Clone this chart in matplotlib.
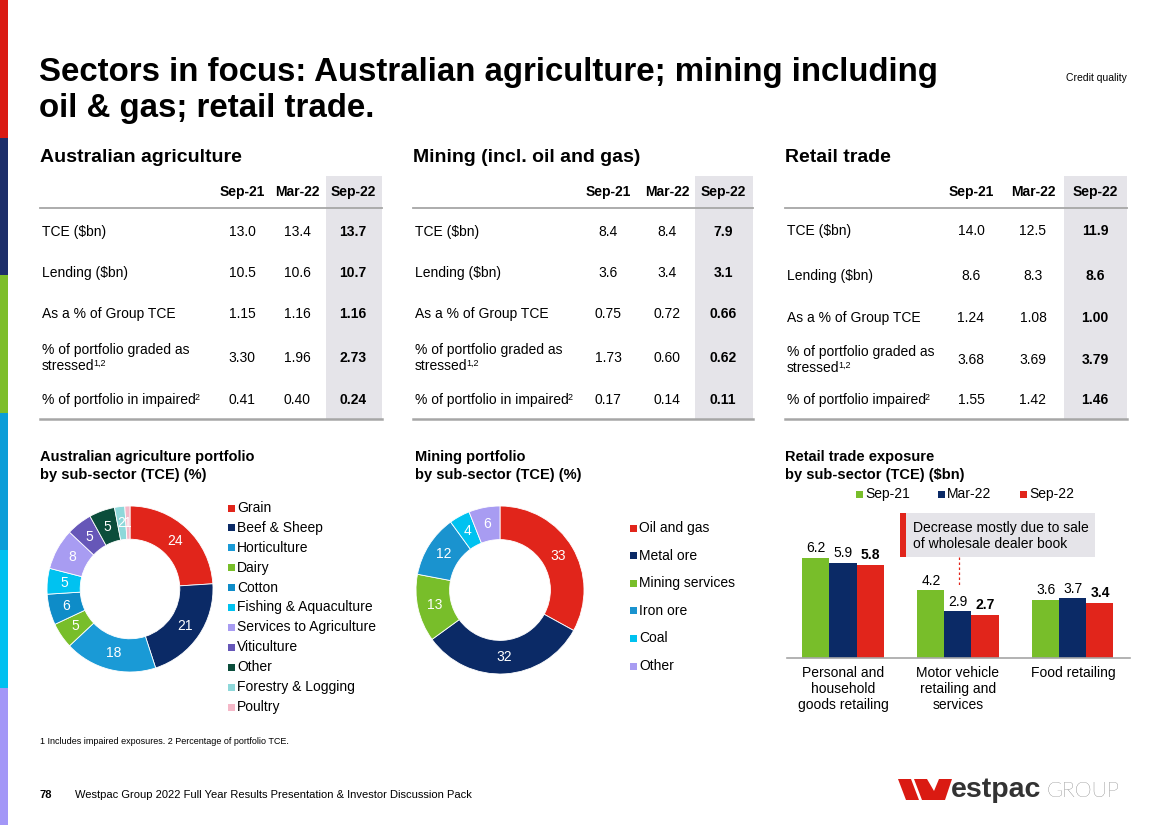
import numpy as np
import matplotlib
matplotlib.use('Agg')
import matplotlib.pyplot as plt
from matplotlib.patches import Rectangle, Polygon

plt.rcParams['font.family'] = ['Liberation Sans', 'DejaVu Sans']

# ---- data ----
periods = ["Sep-21", "Mar-22", "Sep-22"]

agri_labels = ["TCE ($bn)", "Lending ($bn)", "As a % of Group TCE",
               "% of portfolio graded as\nstressed", "% of portfolio in impaired"]
label_sups = ["", "", "", "1,2", "2"]
agri_sep21 = [13.0, 10.5, 1.15, 3.30, 0.41]
agri_mar22 = [13.4, 10.6, 1.16, 1.96, 0.40]
agri_sep22 = [13.7, 10.7, 1.16, 2.73, 0.24]

mining_labels = agri_labels
mining_sep21 = [8.4, 3.6, 0.75, 1.73, 0.17]
mining_mar22 = [8.4, 3.4, 0.72, 0.60, 0.14]
mining_sep22 = [7.9, 3.1, 0.66, 0.62, 0.11]

retail_labels = ["TCE ($bn)", "Lending ($bn)", "As a % of Group TCE",
                 "% of portfolio graded as\nstressed", "% of portfolio impaired"]
retail_sep21 = [14.0, 8.6, 1.24, 3.68, 1.55]
retail_mar22 = [12.5, 8.3, 1.08, 3.69, 1.42]
retail_sep22 = [11.9, 8.6, 1.00, 3.79, 1.46]
row_decimals = [1, 1, 2, 2, 2]

agri_sectors = ["Grain", "Beef & Sheep", "Horticulture", "Dairy", "Cotton",
                "Fishing & Aquaculture", "Services to Agriculture", "Viticulture",
                "Other", "Forestry & Logging", "Poultry"]
agri_share = [24, 21, 18, 5, 6, 5, 8, 5, 5, 2, 1]
agri_colors = ["#E1251B", "#0B2A66", "#1A9AD6", "#78BE2A", "#0E8CC8",
               "#00C2F0", "#A89CF2", "#6657B8", "#0B4D3B", "#8ED8DA", "#F5B8C8"]

mining_sectors = ["Oil and gas", "Metal ore", "Mining services", "Iron ore", "Coal", "Other"]
mining_share = [33, 32, 13, 12, 4, 6]
mining_colors = ["#E1251B", "#0B2A66", "#78BE2A", "#1A93CF", "#00C2F0", "#A89CF2"]

retail_cats = ["Personal and\nhousehold\ngoods retailing",
               "Motor vehicle\nretailing and\nservices", "Food retailing"]
retail_exp_sep21 = [6.2, 4.2, 3.6]
retail_exp_mar22 = [5.9, 2.9, 3.7]
retail_exp_sep22 = [5.8, 2.7, 3.4]
bar_colors = ["#78BE2A", "#0B2A66", "#E1251B"]

side_colors = ["#DA1A12", "#1D2E6A", "#7DBE2A", "#0B9DD8", "#00C0F0", "#A397F7"]

# ---- figure ----
W, H = 1168, 825
fig = plt.figure(figsize=(W / 100, H / 100), dpi=100)
bg = fig.add_axes([0, 0, 1, 1])
bg.set_xlim(0, W)
bg.set_ylim(H, 0)
bg.axis('off')


def px_rect(x0, y0, x1, y1):
    return [x0 / W, 1 - y1 / H, (x1 - x0) / W, (y1 - y0) / H]


# side colour strip
seg = H / len(side_colors)
for i, c in enumerate(side_colors):
    bg.add_patch(Rectangle((0, i * seg), 8, seg, color=c, lw=0))

# title
bg.text(39, 81, "Sectors in focus: Australian agriculture; mining including",
        fontsize=23.8, fontweight='bold', va='baseline')
bg.text(39, 117, "oil & gas; retail trade.", fontsize=23.8, fontweight='bold', va='baseline')
bg.text(1127, 78, "Credit quality", fontsize=7.5, ha='right', va='center')


def draw_table(title, x0, x1, col_x, shade_x0, row_y, labels, cols):
    bg.text(x0, 158, title, fontsize=14, fontweight='bold', va='center')
    bg.add_patch(Rectangle((shade_x0, 176), x1 - shade_x0, 243, color="#E5E4E9", lw=0))
    for cx, p in zip(col_x, periods):
        bg.text(cx, 192, p, fontsize=10, fontweight='bold', ha='center', va='center')
    bg.plot([x0, x1], [208, 208], color="#A6A6A6", lw=1.3)
    bg.plot([x0, x1], [419, 419], color="#A6A6A6", lw=1.8)
    for i, (lab, y) in enumerate(zip(labels, row_y)):
        lines = lab.split("\n")
        ly = [y] if len(lines) == 1 else [y - 8, y + 8]
        for line, yy in zip(lines, ly):
            t = bg.text(x0 + 2, yy, line, fontsize=10, va='center')
        if label_sups[i]:
            bg.annotate(label_sups[i], xy=(1, 0.7), xycoords=t, xytext=(-0.8, 0),
                        textcoords='offset points', fontsize=6.5, va='center', ha='left')
        for j, (cx, vals) in enumerate(zip(col_x, cols)):
            bg.text(cx, y, f"{vals[i]:.{row_decimals[i]}f}", fontsize=10,
                    fontweight='bold' if j == 2 else 'normal', ha='center', va='center')


draw_table("Australian agriculture", 40, 382, [242, 297, 353], 326,
           [232, 273, 314, 358, 400], agri_labels, [agri_sep21, agri_mar22, agri_sep22])
draw_table("Mining (incl. oil and gas)", 413, 753, [608, 667, 723], 695,
           [232, 273, 314, 358, 400], mining_labels, [mining_sep21, mining_mar22, mining_sep22])
draw_table("Retail trade", 785, 1127, [971, 1033, 1095], 1064,
           [231, 276, 318, 360, 400], retail_labels, [retail_sep21, retail_mar22, retail_sep22])

# chart headings
for x, l1, l2 in [(40, "Australian agriculture portfolio", "by sub-sector (TCE) (%)"),
                  (415, "Mining portfolio", "by sub-sector (TCE) (%)"),
                  (785, "Retail trade exposure", "by sub-sector (TCE) ($bn)")]:
    bg.text(x, 457, l1, fontsize=10.5, fontweight='bold', va='center')
    bg.text(x, 475, l2, fontsize=10.5, fontweight='bold', va='center')


def donut(cx, cy, r, values, colors):
    ax = fig.add_axes(px_rect(cx - r, cy - r, cx + r, cy + r))
    ax.pie(values, colors=colors, startangle=90, counterclock=False, radius=1,
           wedgeprops=dict(width=0.4, edgecolor='white', linewidth=0.6),
           autopct=lambda p: f"{p:.0f}", pctdistance=0.8,
           textprops=dict(color='white', fontsize=10))
    ax.set_xlim(-1, 1)
    ax.set_ylim(-1, 1)
    ax.set_aspect('equal')
    ax.axis('off')


def legend(x, y0, dy, names, colors):
    for i, (n, c) in enumerate(zip(names, colors)):
        y = y0 + i * dy
        bg.add_patch(Rectangle((x, y - 3.5), 7, 7, color=c, lw=0))
        bg.text(x + 9, y, n, fontsize=10, va='center')


donut(130, 589, 83, agri_share, agri_colors)
legend(228, 508, 19.9, agri_sectors, agri_colors)
donut(500, 590, 84, mining_share, mining_colors)
legend(630, 528, 27.6, mining_sectors, mining_colors)

# retail bar chart
axb = fig.add_axes(px_rect(787, 498, 1130, 658))
x = np.arange(len(retail_cats))
w = 0.235
for k, (vals, c) in enumerate(zip([retail_exp_sep21, retail_exp_mar22, retail_exp_sep22], bar_colors)):
    xs = x + (k - 1) * w
    axb.bar(xs, vals, w, color=c, lw=0)
    for xi, v in zip(xs, vals):
        axb.annotate(f"{v:.1f}", (xi, v), xytext=(0, 2), textcoords='offset points',
                     ha='center', va='bottom', fontsize=10,
                     fontweight='bold' if k == 2 else 'normal')
axb.set_xlim(-0.487, 2.496)
axb.set_ylim(0, 9.94)
axb.set_xticks(x, retail_cats, fontsize=10, linespacing=1.15)
axb.tick_params(axis='x', length=0, pad=6)
axb.set_yticks([])
for s in ['top', 'right', 'left']:
    axb.spines[s].set_visible(False)
axb.spines['bottom'].set_color("#A6A6A6")
axb.spines['bottom'].set_linewidth(1.2)
axb.patch.set_alpha(0)

for lx, p, c in zip([856, 938, 1020], periods, bar_colors):
    bg.add_patch(Rectangle((lx, 490.5), 7, 7, color=c, lw=0))
    bg.text(lx + 9, 494, p, fontsize=10, va='center')

# annotation box
bg.add_patch(Rectangle((900, 513), 195, 44, color="#E5E4E9", lw=0))
bg.add_patch(Rectangle((900, 513), 6, 44, color="#E1251B", lw=0))
bg.text(913, 528, "Decrease mostly due to sale", fontsize=10, va='center')
bg.text(913, 544, "of wholesale dealer book", fontsize=10, va='center')
bg.plot([959, 959], [557, 587], color="#E1251B", lw=0.9, ls=(0, (2, 2)))

# footnotes
bg.text(40, 742, "1 Includes impaired exposures. 2 Percentage of portfolio TCE.", fontsize=6.5, va='center')
bg.text(40, 795, "78", fontsize=8, fontweight='bold', va='center')
bg.text(75, 795, "Westpac Group 2022 Full Year Results Presentation & Investor Discussion Pack",
        fontsize=8, va='center')

# logo
bg.add_patch(Polygon([(898, 779), (911, 779), (919, 800), (906, 800)], color="#DA1A12", lw=0))
bg.add_patch(Polygon([(914, 779), (927, 779), (934, 791), (939, 779), (952, 779),
                      (945, 800), (922, 800)], color="#DA1A12", lw=0))
bg.text(951, 797, "estpac", fontsize=20.5, fontweight='bold', color="#333333", va='baseline')
bg.text(1047, 797, "GROUP", fontsize=15.5, color="#3A3A3A", va='baseline',
        family=['Lato', 'Liberation Sans'], fontweight='light')

fig.savefig("out.png", dpi=100)
